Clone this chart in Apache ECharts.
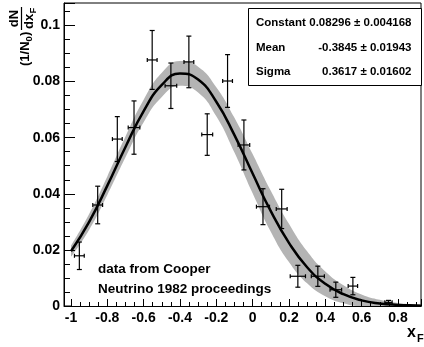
<!DOCTYPE html>
<html>
<head>
<meta charset="utf-8">
<script src="https://cdn.jsdelivr.net/npm/echarts@6/dist/echarts.min.js"></script>
<style>
  html, body { margin: 0; padding: 0; background: #fff; }
  #chart { width: 424px; height: 347px; }
</style>
</head>
<body>
<div id="chart"></div>
<script>
// measured points: xF, (1/N0) dN/dxF and their errors
const pointX = [-0.954, -0.853, -0.745, -0.653, -0.553, -0.450, -0.351, -0.250, -0.138,
  -0.048, 0.057, 0.160, 0.249, 0.359, 0.458, 0.552, 0.748];
const pointY = [0.0179, 0.0360, 0.0595, 0.0636, 0.0877, 0.0785, 0.0870, 0.0611, 0.0802,
  0.0574, 0.0354, 0.0346, 0.0106, 0.0106, 0.0058, 0.0071, 0.0013];
const pointXErr = [0.027, 0.027, 0.027, 0.032, 0.027, 0.032, 0.027, 0.030, 0.027,
  0.032, 0.036, 0.030, 0.042, 0.036, 0.032, 0.026, 0.020];
const pointYErr = [0.0049, 0.0067, 0.0080, 0.0095, 0.0105, 0.0081, 0.0092, 0.0074, 0.0094,
  0.0089, 0.0064, 0.0070, 0.0039, 0.0036, 0.0027, 0.0031, 0.0007];

const fitX = [-1, -0.9, -0.8, -0.7, -0.6, -0.5, -0.4, -0.3, -0.2, -0.1, 0,
  0.1, 0.2, 0.3, 0.4, 0.5, 0.6, 0.7, 0.8, 0.9, 0.93];
const fitY = [0.0195, 0.0300, 0.0429, 0.0567, 0.0695, 0.0788, 0.0829, 0.0807, 0.0728,
  0.0609, 0.0472, 0.0338, 0.0225, 0.0138, 0.0079, 0.0042, 0.0020, 0.0009, 0.0004, 0.00015, 0.0001];
const bandHalf = [0.0020, 0.0028, 0.0033, 0.0037, 0.0040, 0.0043, 0.0044, 0.0046, 0.0052,
  0.0062, 0.0070, 0.0073, 0.0068, 0.0057, 0.0044, 0.0032, 0.0021, 0.0013, 0.0007, 0.0004, 0.0004];

const fitLabels = ["Constant", "Mean", "Sigma"];
const fitValues = ["0.08296 \u00b1 0.004168", "-0.3845 \u00b1 0.01943", "0.3617 \u00b1 0.01602"];
const noteLines = ["data from Cooper", "Neutrino 1982 proceedings"];

const FONT = "'Liberation Sans', Arial, Helvetica, sans-serif";

const chart = echarts.init(document.getElementById("chart"));

const bandLow = fitX.map((x, i) => [x, Math.max(0, fitY[i] - bandHalf[i])]);
const bandHigh = fitX.map((x, i) => [x, fitY[i] + bandHalf[i]]);

const txt = (x, y, text, size, align, valign) => ({
  type: "text", x, y, z: 20,
  style: {
    text, fill: "#000", font: `bold ${size}px ${FONT}`,
    textAlign: align || "left", textVerticalAlign: valign || "middle",
  },
});

const statsRows = [22.7, 48.3, 71.7];
const statsBox = [
  {
    type: "rect",
    shape: { x: 248.5, y: 8.5, width: 173, height: 77 },
    style: { fill: "#fff", stroke: "#000", lineWidth: 1 },
    z: 19,
  },
];
fitLabels.forEach((lab, i) => {
  statsBox.push(txt(256, statsRows[i], lab, 11.5));
  statsBox.push(txt(411.5, statsRows[i], fitValues[i], 11.5, "right"));
});

// y title: (1/N0) dN/dxF, rotated
const yTitle = {
  type: "group",
  x: 25, y: 66, z: 20,
  rotation: Math.PI / 2,
  children: [
    txt(0, 0, "(1/N", 13),
    txt(24.6, 4, "0", 9.5),
    txt(30, 0, ")", 13),
    txt(47.5, -10.5, "dN", 13, "center"),
    { type: "line", shape: { x1: 36, y1: -3.5, x2: 59, y2: -3.5 }, style: { stroke: "#000", lineWidth: 1.2 } },
    txt(37, 4, "dx", 13),
    txt(52.5, 8, "F", 9.5),
  ],
};

const option = {
  animation: false,
  grid: {
    left: 64, right: 3, top: 3, bottom: 41,
    show: true, borderColor: "#000", borderWidth: 1,
  },
  xAxis: {
    type: "value",
    z: 6,
    min: -1.0385, max: 0.927,
    splitNumber: 10, minInterval: 0.2, maxInterval: 0.2,
    axisLine: { show: true, onZero: false, lineStyle: { color: "#000", width: 1 } },
    axisTick: { show: true, inside: true, length: 7, lineStyle: { color: "#000", width: 1 } },
    minorTick: { show: true, splitNumber: 4, length: 4, lineStyle: { color: "#000", width: 1 } },
    splitLine: { show: false },
    axisLabel: {
      color: "#000", fontFamily: FONT, fontWeight: "bold", fontSize: 14, margin: 5,
      showMinLabel: false, showMaxLabel: false,
    },
  },
  yAxis: {
    type: "value",
    z: 6,
    min: 0, max: 0.108, interval: 0.02,
    axisLine: { show: true, onZero: false, lineStyle: { color: "#000", width: 1 } },
    axisTick: { show: true, inside: true, length: 11, lineStyle: { color: "#000", width: 1 } },
    minorTick: { show: true, splitNumber: 4, length: 6, lineStyle: { color: "#000", width: 1 } },
    splitLine: { show: false },
    axisLabel: {
      color: "#000", fontFamily: FONT, fontWeight: "bold", fontSize: 14, margin: 4,
      showMaxLabel: false,
    },
  },
  series: [
    // grey band: upper edge filled down to zero, lower edge filled back with white
    {
      type: "line", data: bandHigh, smooth: true, symbol: "none",
      lineStyle: { width: 0, opacity: 0 }, areaStyle: { color: "#b4b4b4", opacity: 1 }, z: 1, silent: true,
    },
    {
      type: "line", data: bandLow, smooth: true, symbol: "none",
      lineStyle: { width: 0, opacity: 0 }, areaStyle: { color: "#fff", opacity: 1 }, z: 2, silent: true,
    },
    {
      type: "line", data: fitX.map((x, i) => [x, fitY[i]]), smooth: true, symbol: "none",
      lineStyle: { color: "#000", width: 2.5 }, z: 3, silent: true,
    },
    {
      type: "custom",
      data: pointX.map((x, i) => [x, pointY[i], pointXErr[i], pointYErr[i]]),
      encode: { x: 0, y: 1 },
      z: 4,
      renderItem: (params, api) => {
        const x = api.value(0), y = api.value(1), ex = api.value(2), ey = api.value(3);
        const c = api.coord([x, y]);
        const l = api.coord([x - ex, y]);
        const r = api.coord([x + ex, y]);
        const t = api.coord([x, y + ey]);
        const b = api.coord([x, y - ey]);
        const style = { stroke: "#000", lineWidth: 1.2 };
        const seg = (x1, y1, x2, y2) => ({ type: "line", shape: { x1, y1, x2, y2 }, style });
        return {
          type: "group",
          children: [
            seg(l[0], c[1], r[0], c[1]),
            seg(c[0], t[1], c[0], b[1]),
            seg(l[0], c[1] - 2, l[0], c[1] + 2),
            seg(r[0], c[1] - 2, r[0], c[1] + 2),
            seg(c[0] - 2.5, t[1], c[0] + 2.5, t[1]),
            seg(c[0] - 2.5, b[1], c[0] + 2.5, b[1]),
          ],
        };
      },
    },
  ],
  graphic: [
    ...statsBox,
    txt(98, 269.7, noteLines[0], 13.5),
    txt(98, 289, noteLines[1], 13.5),
    yTitle,
    txt(416, 333, "x", 16, "right"),
    txt(417, 339, "F", 11),
  ],
};

chart.setOption(option);
</script>
</body>
</html>
